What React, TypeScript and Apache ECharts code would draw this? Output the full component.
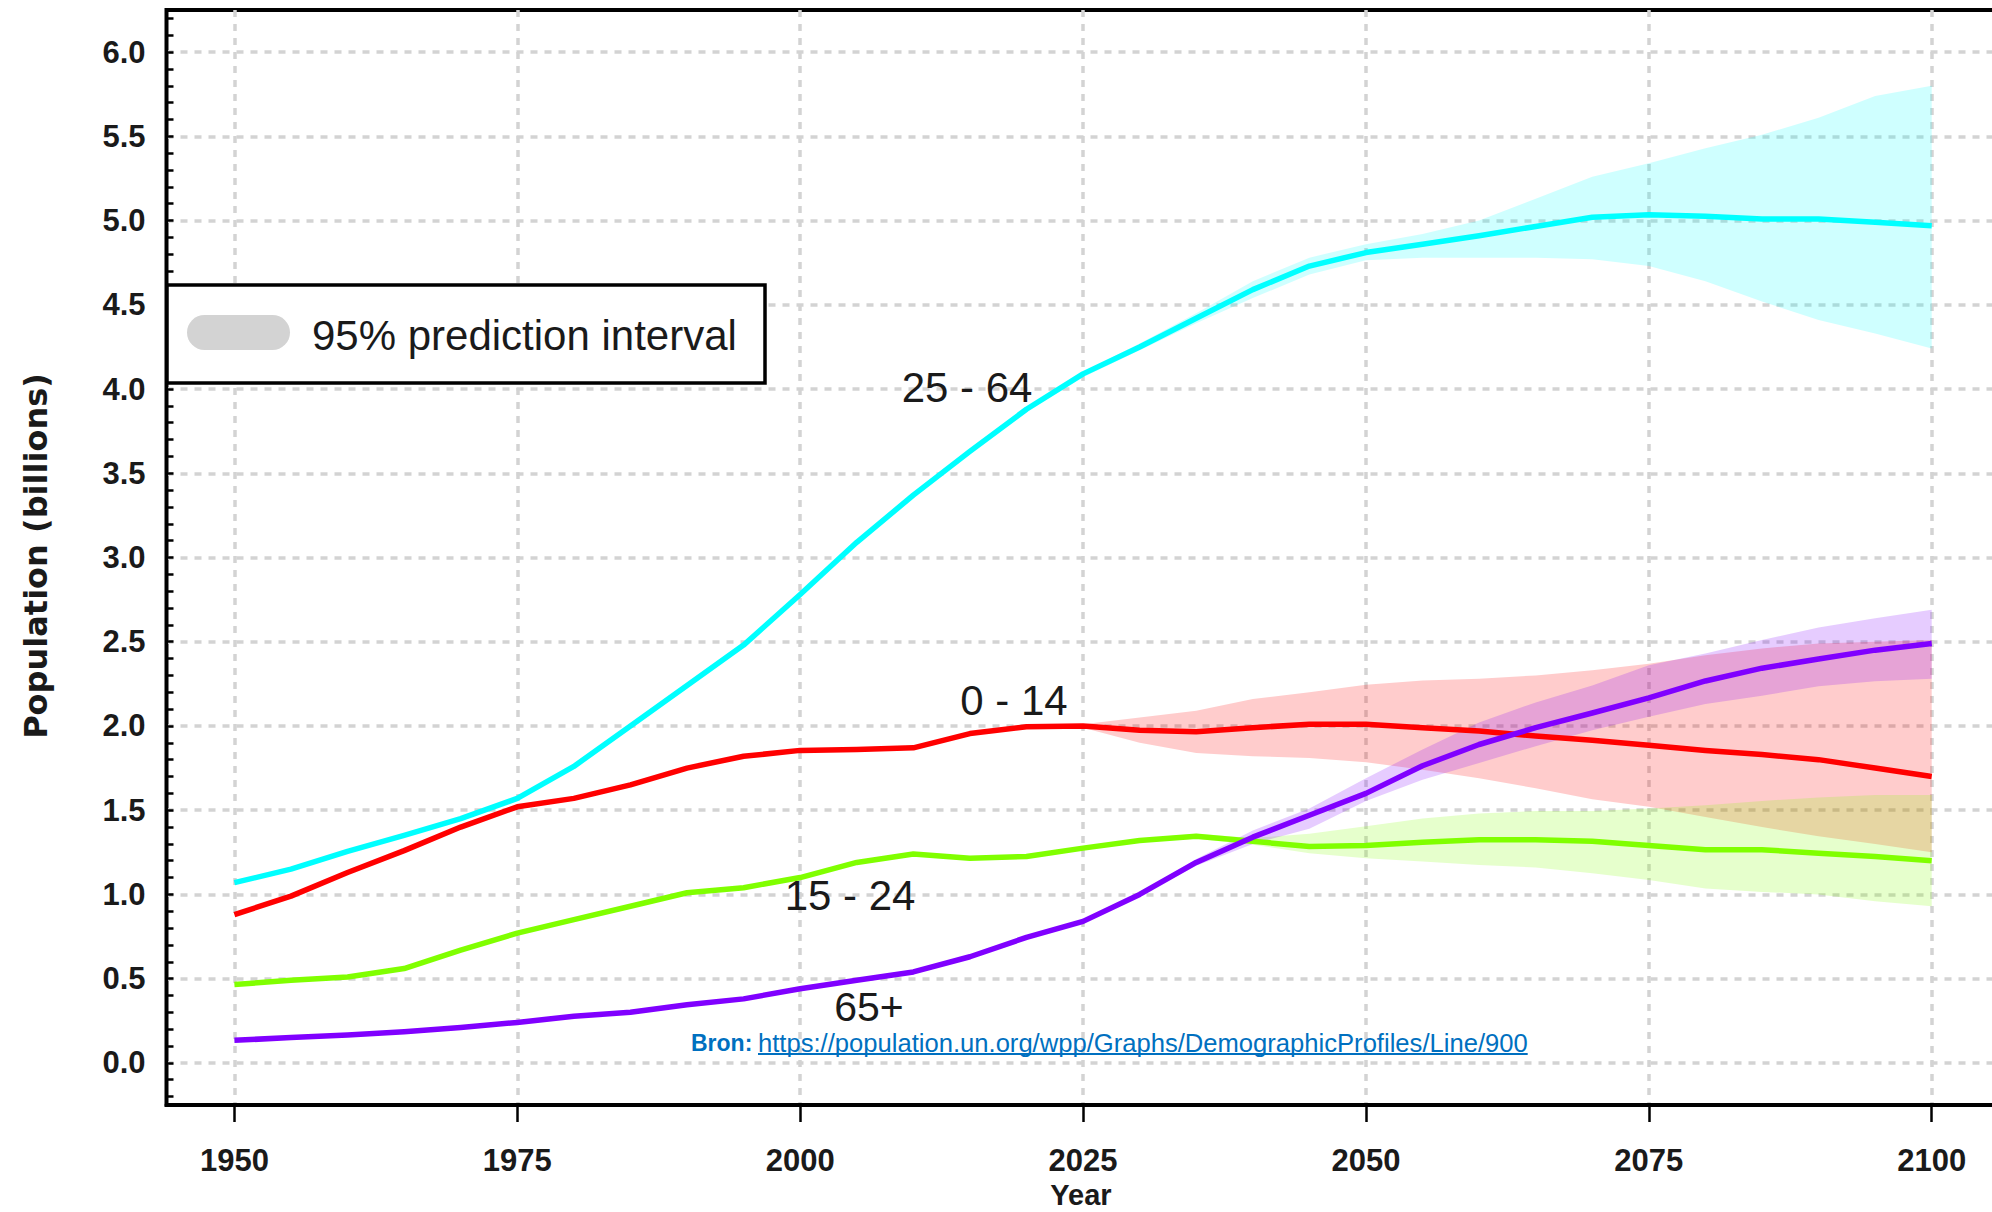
import React, { useEffect, useRef } from "react";
import * as echarts from "echarts";

// ---------- data ----------
const years = [1950, 1955, 1960, 1965, 1970, 1975, 1980, 1985, 1990, 1995, 2000, 2005, 2010, 2015, 2020, 2025, 2030, 2035, 2040, 2045, 2050, 2055, 2060, 2065, 2070, 2075, 2080, 2085, 2090, 2095, 2100];

const age0to14 = [0.88, 0.99, 1.13, 1.26, 1.40, 1.52, 1.57, 1.65, 1.75, 1.82, 1.855, 1.86, 1.87, 1.955, 1.995, 2.00, 1.975, 1.966, 1.99, 2.01, 2.01, 1.99, 1.97, 1.94, 1.915, 1.885, 1.855, 1.83, 1.80, 1.75, 1.70];
const age15to24 = [0.465, 0.49, 0.51, 0.56, 0.67, 0.77, 0.85, 0.93, 1.01, 1.04, 1.10, 1.19, 1.24, 1.215, 1.225, 1.275, 1.32, 1.345, 1.315, 1.285, 1.29, 1.31, 1.325, 1.325, 1.315, 1.29, 1.265, 1.265, 1.245, 1.225, 1.20];
const age25to64 = [1.07, 1.15, 1.255, 1.35, 1.45, 1.57, 1.76, 2.00, 2.24, 2.48, 2.78, 3.09, 3.37, 3.63, 3.88, 4.09, 4.25, 4.42, 4.59, 4.73, 4.81, 4.86, 4.91, 4.965, 5.02, 5.035, 5.025, 5.01, 5.01, 4.99, 4.97];
const age65plus = [0.134, 0.15, 0.165, 0.185, 0.21, 0.24, 0.277, 0.30, 0.345, 0.38, 0.44, 0.49, 0.54, 0.63, 0.745, 0.84, 1.00, 1.19, 1.34, 1.47, 1.60, 1.764, 1.89, 1.99, 2.077, 2.167, 2.267, 2.343, 2.397, 2.45, 2.49];

// 95% prediction intervals (projection years)
const bandYears = [2022, 2025, 2030, 2035, 2040, 2045, 2050, 2055, 2060, 2065, 2070, 2075, 2080, 2085, 2090, 2095, 2100];
const band25to64Low = [3.98, 4.07, 4.23, 4.39, 4.54, 4.68, 4.765, 4.78, 4.78, 4.78, 4.77, 4.73, 4.64, 4.52, 4.41, 4.33, 4.24];
const band25to64High = [3.98, 4.10, 4.27, 4.45, 4.64, 4.78, 4.86, 4.92, 5.00, 5.13, 5.26, 5.34, 5.43, 5.51, 5.61, 5.74, 5.80];
const band0to14Low = [2.00, 1.99, 1.90, 1.84, 1.82, 1.81, 1.785, 1.74, 1.69, 1.63, 1.565, 1.52, 1.46, 1.40, 1.345, 1.30, 1.25];
const band0to14High = [2.00, 2.01, 2.05, 2.09, 2.16, 2.20, 2.245, 2.27, 2.28, 2.30, 2.33, 2.37, 2.42, 2.46, 2.49, 2.50, 2.51];
const band15to24Low = [1.23, 1.27, 1.31, 1.33, 1.295, 1.245, 1.215, 1.195, 1.175, 1.16, 1.125, 1.085, 1.035, 1.015, 1.00, 0.96, 0.93];
const band15to24High = [1.23, 1.28, 1.33, 1.36, 1.335, 1.36, 1.405, 1.45, 1.48, 1.495, 1.495, 1.51, 1.53, 1.555, 1.575, 1.59, 1.59];
const band65plusLow = [0.78, 0.84, 0.99, 1.17, 1.30, 1.39, 1.555, 1.68, 1.78, 1.88, 1.975, 2.055, 2.13, 2.18, 2.235, 2.265, 2.28];
const band65plusHigh = [0.78, 0.84, 1.01, 1.21, 1.38, 1.51, 1.69, 1.86, 2.02, 2.14, 2.24, 2.36, 2.43, 2.51, 2.585, 2.64, 2.69];

// axes
const xTickYears = [1950, 1975, 2000, 2025, 2050, 2075, 2100];
const yTickValues = [0, 0.5, 1, 1.5, 2, 2.5, 3, 3.5, 4, 4.5, 5, 5.5, 6];
const yMinorTicks = [-0.2, -0.1, 0, 0.1, 0.2, 0.3, 0.4, 0.5, 0.6, 0.7, 0.8, 0.9, 1, 1.1, 1.2, 1.3, 1.4, 1.5, 1.6, 1.7, 1.8, 1.9, 2, 2.1, 2.2, 2.3, 2.4, 2.5, 2.6, 2.7, 2.8, 2.9, 3, 3.1, 3.2, 3.3, 3.4, 3.5, 3.6, 3.7, 3.8, 3.9, 4, 4.1, 4.2, 4.3, 4.4, 4.5, 4.6, 4.7, 4.8, 4.9, 5, 5.1, 5.2, 5.3, 5.4, 5.5, 5.6, 5.7, 5.8, 5.9, 6, 6.1, 6.2];

const seriesLabels = ["0 - 14", "15 - 24", "25 - 64", "65+"];
const legendText = "95% prediction interval";
const sourcePrefix = "Bron:";
const sourceUrl = "https://population.un.org/wpp/Graphs/DemographicProfiles/Line/900";

const FONT = '"Liberation Sans", Arial, sans-serif';
const TXT = "#1a1a1a";

function bandSeries(id: string, low: number[], high: number[], color: string) {
  const data = bandYears.map((y, i) => [y, low[i], high[i]]);
  return {
    type: "custom",
    name: id + " 95%",
    data,
    encode: { x: 0, y: [1, 2] },
    silent: true,
    z: 1,
    renderItem: (params: any, api: any) => {
      if (params.dataIndex !== 0) return null;
      const top = data.map((d) => api.coord([d[0], d[2]]));
      const bottom = data.map((d) => api.coord([d[0], d[1]])).reverse();
      return {
        type: "polygon",
        shape: { points: top.concat(bottom) },
        style: { fill: color, stroke: "none" },
      };
    },
  };
}

function lineSeries(name: string, values: number[], color: string) {
  return {
    type: "line",
    name,
    data: years.map((y, i) => [y, values[i]]),
    symbol: "none",
    smooth: false,
    lineStyle: { color, width: 5.5, join: "round" },
    z: 3,
  };
}

export default function App() {
  const ref = useRef<HTMLDivElement>(null);

  useEffect(() => {
    document.body.style.margin = "0";
    const el = ref.current!;
    const chart = echarts.init(el, null, { renderer: "svg" });

    // fit the source url to the reference span (758 .. 1528)
    const ctx = document.createElement("canvas").getContext("2d")!;
    ctx.font = `100px ${FONT}`;
    const w100 = ctx.measureText(sourceUrl).width;
    const urlX = 758;
    const urlTargetW = 770;
    const urlFont = Math.min(26, (100 * urlTargetW) / w100);
    ctx.font = `${urlFont}px ${FONT}`;
    const urlWidth = ctx.measureText(sourceUrl).width;

    const gridLine = { color: "#d3d3d3", width: 3.5, type: [7, 7] as any };

    const option: any = {
      animation: false,
      backgroundColor: "#ffffff",
      grid: {
        left: 166.5,
        top: 10,
        width: 1901,
        height: 1095,
        containLabel: false,
        outerBoundsMode: "none",
        show: true,
        borderColor: "#000",
        borderWidth: 4,
        backgroundColor: "transparent",
      },
      xAxis: [
        {
          type: "value",
          min: 1944,
          max: 2112,
          axisLine: { show: true, onZero: false, lineStyle: { color: "#000", width: 4 } },
          axisTick: { show: true, inside: false, length: 17, customValues: xTickYears, lineStyle: { color: "#000", width: 2.5 } },
          axisLabel: {
            show: true,
            customValues: xTickYears,
            formatter: (v: number) => String(v),
            fontSize: 31,
            fontWeight: "bold",
            fontFamily: FONT,
            color: TXT,
            margin: 40,
          },
          splitLine: { show: true, lineStyle: gridLine },
        },
      ],
      yAxis: [
        {
          type: "value",
          position: "left",
          min: -0.25,
          max: 6.25,
          axisLine: { show: true, onZero: false, lineStyle: { color: "#000", width: 3 } },
          axisTick: { show: true, inside: true, length: 7, customValues: yMinorTicks, lineStyle: { color: "#000", width: 2.5 } },
          axisLabel: {
            show: true,
            customValues: yTickValues,
            formatter: (v: number) => v.toFixed(1),
            fontSize: 31,
            fontWeight: "bold",
            fontFamily: FONT,
            color: TXT,
            margin: 21,
          },
          splitLine: { show: false },
        },
        {
          type: "value",
          position: "left",
          min: -0.25,
          max: 6.25,
          axisLine: { show: false },
          axisTick: { show: false, customValues: yTickValues },
          axisLabel: { show: false, customValues: yTickValues },
          splitLine: { show: true, lineStyle: gridLine },
        },
      ],
      series: [
        bandSeries(seriesLabels[2], band25to64Low, band25to64High, "rgba(0,255,255,0.19)"),
        bandSeries(seriesLabels[0], band0to14Low, band0to14High, "rgba(255,0,0,0.2)"),
        bandSeries(seriesLabels[1], band15to24Low, band15to24High, "rgba(128,255,0,0.2)"),
        bandSeries(seriesLabels[3], band65plusLow, band65plusHigh, "rgba(128,0,255,0.2)"),
        lineSeries(seriesLabels[2], age25to64, "#00ffff"),
        lineSeries(seriesLabels[0], age0to14, "#ff0000"),
        lineSeries(seriesLabels[1], age15to24, "#80ff00"),
        lineSeries(seriesLabels[3], age65plus, "#8000ff"),
      ],
      graphic: [
        // legend box
        {
          type: "rect",
          z: 20,
          shape: { x: 167, y: 285, width: 598, height: 98 },
          style: { fill: "#ffffff", stroke: "#000", lineWidth: 3.5 },
        },
        {
          type: "rect",
          z: 21,
          shape: { x: 187, y: 315, width: 103, height: 35, r: 17.5 },
          style: { fill: "#d3d3d3" },
        },
        {
          type: "text",
          z: 21,
          x: 312,
          y: 335,
          style: { text: legendText, fontSize: 42, fontFamily: FONT, fill: TXT, align: "left", verticalAlign: "middle" },
        },
        // series labels
        {
          type: "text", z: 22, x: 967, y: 387,
          style: { text: seriesLabels[2], fontSize: 42, fontFamily: FONT, fill: TXT, align: "center", verticalAlign: "middle" },
        },
        {
          type: "text", z: 22, x: 1014, y: 700,
          style: { text: seriesLabels[0], fontSize: 42, fontFamily: FONT, fill: TXT, align: "center", verticalAlign: "middle" },
        },
        {
          type: "text", z: 22, x: 850, y: 895,
          style: { text: seriesLabels[1], fontSize: 42, fontFamily: FONT, fill: TXT, align: "center", verticalAlign: "middle" },
        },
        {
          type: "text", z: 22, x: 869, y: 1007,
          style: { text: seriesLabels[3], fontSize: 41, fontFamily: FONT, fill: TXT, align: "center", verticalAlign: "middle" },
        },
        // axis names
        {
          type: "text", z: 22, x: 1081, y: 1195,
          style: { text: "Year", fontSize: 29, fontWeight: "bold", fontFamily: FONT, fill: TXT, align: "center", verticalAlign: "middle" },
        },
        {
          type: "text", z: 22, x: 36, y: 556, rotation: Math.PI / 2,
          style: { text: "Population (billions)", fontSize: 32, fontWeight: "bold", fontFamily: '"DejaVu Sans", sans-serif', fill: TXT, align: "center", verticalAlign: "middle" },
        },
        // source
        {
          type: "text", z: 22, x: 691, y: 1043,
          style: { text: sourcePrefix, fontSize: 23, fontWeight: "bold", fontFamily: FONT, fill: "#0070c0", align: "left", verticalAlign: "middle" },
        },
        {
          type: "text", z: 22, x: urlX, y: 1043,
          style: { text: sourceUrl, fontSize: urlFont, fontFamily: FONT, fill: "#0070c0", align: "left", verticalAlign: "middle" },
        },
        {
          type: "line", z: 22,
          shape: { x1: urlX, y1: 1054, x2: urlX + urlWidth, y2: 1054 },
          style: { stroke: "#0070c0", lineWidth: 2 },
        },
      ],
    };

    chart.setOption(option);
    return () => chart.dispose();
  }, []);

  return <div ref={ref} style={{ width: 1992, height: 1212 }} />;
}
